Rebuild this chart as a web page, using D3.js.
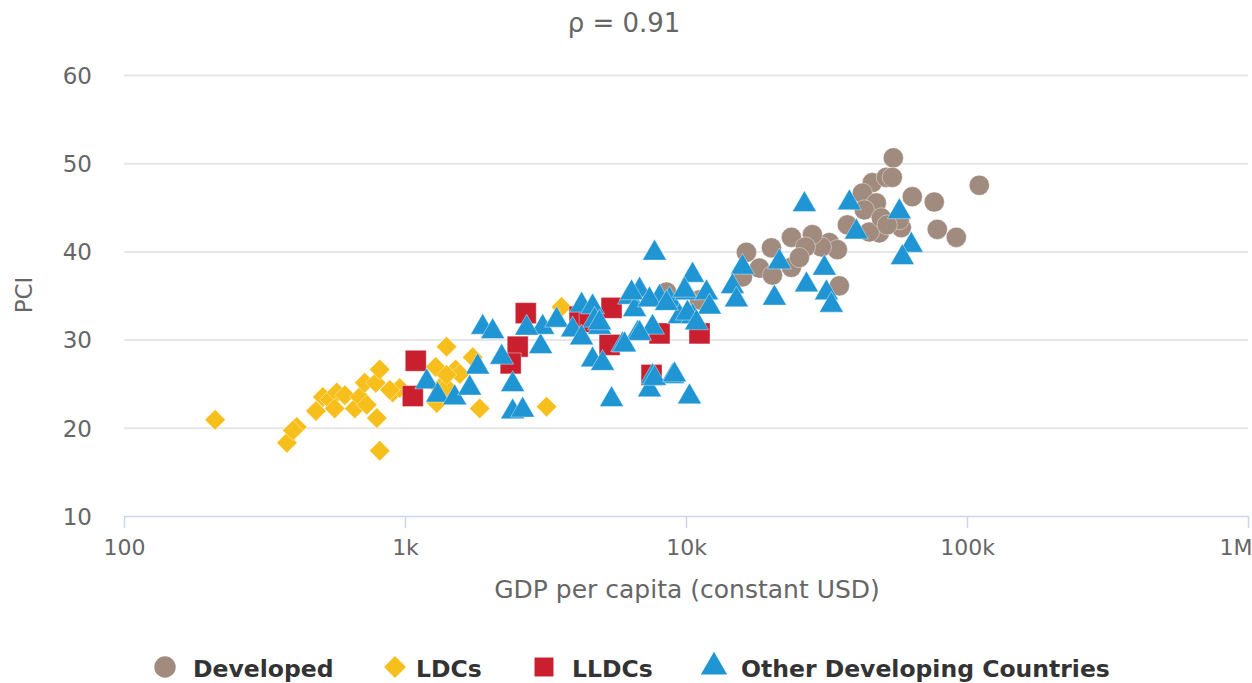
<!DOCTYPE html>
<html>
<head>
<meta charset="utf-8">
<script src="https://cdn.jsdelivr.net/npm/d3@7/dist/d3.min.js"></script>
<style>
  html, body { margin: 0; padding: 0; background: #fff; }
  svg { display: block; font-family: "DejaVu Sans", "Open Sans", sans-serif; }
</style>
</head>
<body>
<svg id="chart" width="1252" height="683"></svg>
<script>
// GDP per capita (constant USD) vs. PCI, by country group: [gdp, pci]
const developed = [
  [54680, 50.6], [110600, 47.5], [63880, 46.2], [76470, 45.6], [78400, 42.5],
  [91600, 41.6], [58380, 42.7], [48750, 42.1], [44920, 42.2], [37520, 43.0],
  [46040, 47.8], [51630, 48.4], [54230, 48.4], [42430, 46.6], [47570, 45.5],
  [43120, 44.7], [49560, 43.8], [57430, 43.6], [52000, 43.0], [35140, 36.1],
  [32360, 41.0], [34570, 40.2], [30330, 40.5], [16410, 39.9], [15880, 37.1],
  [18250, 38.1], [20140, 40.4], [20310, 37.3], [23720, 41.6], [23720, 38.2],
  [28170, 41.9], [26600, 40.5], [25330, 39.3], [8520, 35.4], [11170, 34.5]
];
const ldcs = [
  [211, 20.9], [380, 18.3], [412, 20.1], [399, 19.7], [482, 21.9],
  [510, 23.5], [540, 23.2], [572, 24.0], [562, 22.2], [611, 23.7],
  [663, 22.2], [690, 23.5], [719, 25.1], [731, 22.6], [787, 25.1],
  [794, 21.1], [813, 26.6], [813, 17.4], [904, 24.0], [958, 24.5],
  [1286, 26.9], [1297, 22.8], [1329, 24.5], [1406, 29.2], [1406, 24.6],
  [1514, 26.6], [1566, 26.1], [1741, 28.0], [1844, 22.2], [3190, 22.4],
  [3606, 33.7], [883, 24.3], [1406, 26.0]
];
const lldcs = [
  [1092, 27.6], [1066, 23.6], [2690, 33.0], [2518, 29.2], [2377, 27.3],
  [4180, 32.6], [5433, 33.6], [5346, 29.4], [7540, 26.0], [8050, 30.7],
  [11170, 30.7], [4540, 32.0]
];
const otherDeveloping = [
  [1195, 25.2], [1307, 23.7], [1503, 23.4], [1699, 24.5], [1814, 26.9],
  [1890, 31.4], [2051, 30.9], [2208, 28.0], [2416, 24.9], [2416, 21.8],
  [2622, 22.0], [3039, 29.2], [3089, 31.4], [2710, 31.3], [3464, 32.2],
  [3948, 31.1], [4250, 33.9], [4651, 33.7], [4728, 32.2], [4925, 31.4],
  [4250, 30.2], [4651, 27.7], [5434, 23.2], [6297, 34.8], [6835, 35.6],
  [6560, 33.4], [5946, 29.4], [6724, 30.7], [7601, 31.4], [7601, 25.8],
  [7416, 24.3], [8954, 25.8], [10290, 23.5], [8050, 34.8], [8737, 34.5],
  [10040, 35.3], [9482, 32.6], [10550, 32.6], [7727, 39.8], [10550, 37.3],
  [11830, 35.3], [12120, 33.7], [9879, 35.6], [6401, 35.3], [7416, 34.5],
  [8522, 34.1], [6835, 30.7], [6043, 29.4], [10120, 33.0], [10900, 31.9],
  [4925, 31.9], [5047, 27.3], [7727, 25.6], [9101, 26.0], [15880, 38.2],
  [14630, 36.0], [15120, 34.5], [21500, 38.8], [20640, 34.7], [26830, 36.2],
  [31080, 38.1], [31600, 35.3], [32910, 33.9], [26390, 45.3], [38140, 45.5],
  [40380, 42.2], [57430, 44.5], [63360, 40.7], [58870, 39.3]
];

const xTicks = [100, 1000, 10000, 100000, 1000000];
const xTickLabels = ["100", "1k", "10k", "100k", "1M"];
const yTicks = [10, 20, 30, 40, 50, 60];

const seriesNames = ["Developed", "LDCs", "LLDCs", "Other Developing Countries"];
const seriesColors = ["#a08b7e", "#f7bf1b", "#c91f2f", "#1f96d3"];

// Marker shapes: circle, diamond (square turned 45°), square, triangle
const seriesShapes = [d3.symbolCircle, d3.symbolSquare, d3.symbolSquare, d3.symbolTriangle];
const seriesRotate = [0, 45, 0, 0];
const seriesSizes = [320, 210, 440, 250];
const legendSizes = [360, 240, 360, 300];
const seriesData = [developed, ldcs, lldcs, otherDeveloping];

const svg = d3.select("#chart");
const plotLeft = 124, plotRight = 1248, plotTop = 75, plotBottom = 516;

const x = d3.scaleLog().domain([100, 1000000]).range([plotLeft, plotRight]);
const y = d3.scaleLinear().domain([10, 60]).range([plotBottom, plotTop]);

// Title
svg.append("text")
  .attr("x", 624).attr("y", 32)
  .attr("text-anchor", "middle")
  .attr("font-size", 26).attr("fill", "#666")
  .text("ρ = 0.91");

// Horizontal gridlines + y labels
const yAxis = d3.axisLeft(y).tickValues(yTicks).tickSize(-(plotRight - plotLeft)).tickPadding(32);
const gy = svg.append("g").attr("transform", `translate(${plotLeft},0)`).call(yAxis);
gy.select(".domain").remove();
gy.selectAll(".tick line").attr("stroke", "#e6e6e6").attr("stroke-width", 2);
gy.selectAll(".tick text")
  .attr("font-size", 23).attr("fill", "#666").attr("dy", "0.36em")
  .attr("font-family", "'DejaVu Sans', sans-serif");
gy.selectAll(".tick").filter(d => d === 10).select("line").remove();

// X axis
const xAxis = d3.axisBottom(x).tickValues(xTicks)
  .tickFormat((d, i) => xTickLabels[i]).tickSize(12).tickSizeOuter(0);
const gx = svg.append("g").attr("transform", `translate(0,${plotBottom})`).call(xAxis);
gx.select(".domain").attr("stroke", "#ccd6eb").attr("stroke-width", 1.5);
gx.selectAll(".tick line").attr("stroke", "#ccd6eb").attr("stroke-width", 1.5);
gx.selectAll(".tick text")
  .attr("font-size", 22).attr("fill", "#666")
  .attr("y", 39).attr("dy", 0)
  .attr("font-family", "'DejaVu Sans', sans-serif");
gx.selectAll(".tick").filter(d => d === 1000000).select("text").attr("text-anchor", "end").attr("dx", 4);

// Axis titles
svg.append("text")
  .attr("x", 687).attr("y", 598)
  .attr("text-anchor", "middle")
  .attr("font-size", 25).attr("fill", "#666")
  .text("GDP per capita (constant USD)");

svg.append("text")
  .attr("transform", `translate(32,295) rotate(-90)`)
  .attr("text-anchor", "middle")
  .attr("font-size", 23).attr("fill", "#666")
  .text("PCI");

// Points
const plot = svg.append("g");
seriesData.forEach((data, i) => {
  const sym = d3.symbol().type(seriesShapes[i]).size(seriesSizes[i]);
  plot.append("g").selectAll("path")
    .data(data)
    .join("path")
    .attr("transform", d => `translate(${x(d[0])},${y(d[1])}) rotate(${seriesRotate[i]})`)
    .attr("d", sym())
    .attr("fill", seriesColors[i])
    .attr("stroke", "#fff")
    .attr("stroke-opacity", 0.5)
    .attr("stroke-width", 0.8);
});

// Legend
const legendItems = [
  { sx: 165, tx: 193 },
  { sx: 395, tx: 416 },
  { sx: 544, tx: 572 },
  { sx: 714, tx: 741 }
];
const legend = svg.append("g");
seriesNames.forEach((name, i) => {
  const sym = d3.symbol().type(seriesShapes[i]).size(legendSizes[i]);
  legend.append("path")
    .attr("transform", `translate(${legendItems[i].sx},667) rotate(${seriesRotate[i]})`)
    .attr("d", sym())
    .attr("fill", seriesColors[i]);
  legend.append("text")
    .attr("x", legendItems[i].tx).attr("y", 677)
    .attr("font-size", 23.5).attr("font-weight", "bold").attr("fill", "#333")
    .text(name);
});
</script>
</body>
</html>
